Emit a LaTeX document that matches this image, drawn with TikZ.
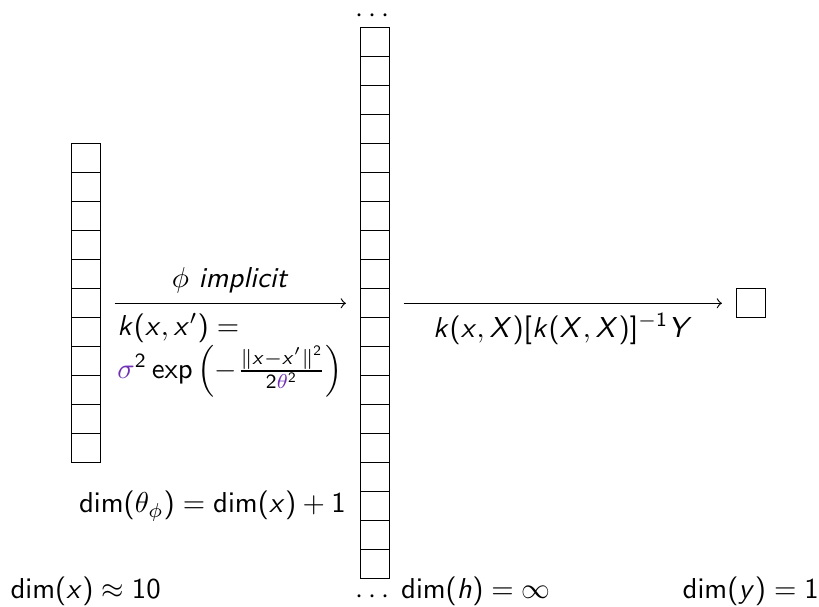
\documentclass[tikz,border=0pt]{standalone}
\usepackage{amsmath}
\usepackage{xcolor}
\usetikzlibrary{positioning}
% sans-serif text and maths, as on a slide
\renewcommand{\familydefault}{\sfdefault}
\DeclareSymbolFont{sfletters}{OT1}{cmss}{m}{sl}
\SetSymbolFont{operators}{normal}{OT1}{cmss}{m}{n}
\makeatletter
\count@=`a
\loop
  \mathcode\count@=\numexpr"7000+\symsfletters*"100+\count@\relax
  \ifnum\count@<`z \advance\count@ by 1 \repeat
\count@=`A
\loop
  \mathcode\count@=\numexpr"7000+\symsfletters*"100+\count@\relax
  \ifnum\count@<`Z \advance\count@ by 1 \repeat
\makeatother
\definecolor{paramviolet}{RGB}{112,48,180}
\newcommand{\cellsize}{0.354}
\tikzset{
  cell/.style={draw,minimum size=\cellsize cm,inner sep=0pt,outer sep=0pt},
  flow/.style={->,shorten <=5pt,shorten >=5pt},
  dimlabel/.style={anchor=base,inner sep=0pt}
}

\begin{document}
\begin{tikzpicture}
  \useasboundingbox (0,0) rectangle (10,-7.40);
  % input x, feature map h, output y
  \foreach \i in {1,...,11}
    \node[cell] (x\i) at (1.046,{-3.703+(6-\i)*\cellsize}) {};
  \foreach \i in {1,...,19}
    \node[cell] (h\i) at (4.576,{-3.703+(10-\i)*\cellsize}) {};
  \node[cell] (y) at (9.167,-3.703) {};
  \node[above=-1.8pt of h1] (htop) {$\cdots$};
  \node[below=0.8pt of h19] (hbot) {$\cdots$};
  \draw[flow] (x6) -- (h10)
    node[midway,above] (phi) {$\phi$ \textit{implicit}}
    node[midway,below,align=left] (kernel) {$k(x,x') =$\\
      $\textcolor{paramviolet}{\sigma}^2\exp\left(-\frac{\|x-x'\|^2}{2\textcolor{paramviolet}{\theta}^2}\right)$};
  \draw[flow] (h10) -- (y)
    node[midway,below] (predict) {$k(x,X)[k(X,X)]^{-1}Y$};
  \node[left=1.5pt of h17] (thetadim) {$\dim(\theta_\phi) = \dim(x) + 1$};
  \node[dimlabel] (xdim) at (1.046,-7.302) {$\dim(x) \approx 10$};
  \node[dimlabel] (hdim) at (5.811,-7.302) {$\dim(h) = \infty$};
  \node[dimlabel] (ydim) at (9.167,-7.302) {$\dim(y) = 1$};
\end{tikzpicture}
\end{document}
